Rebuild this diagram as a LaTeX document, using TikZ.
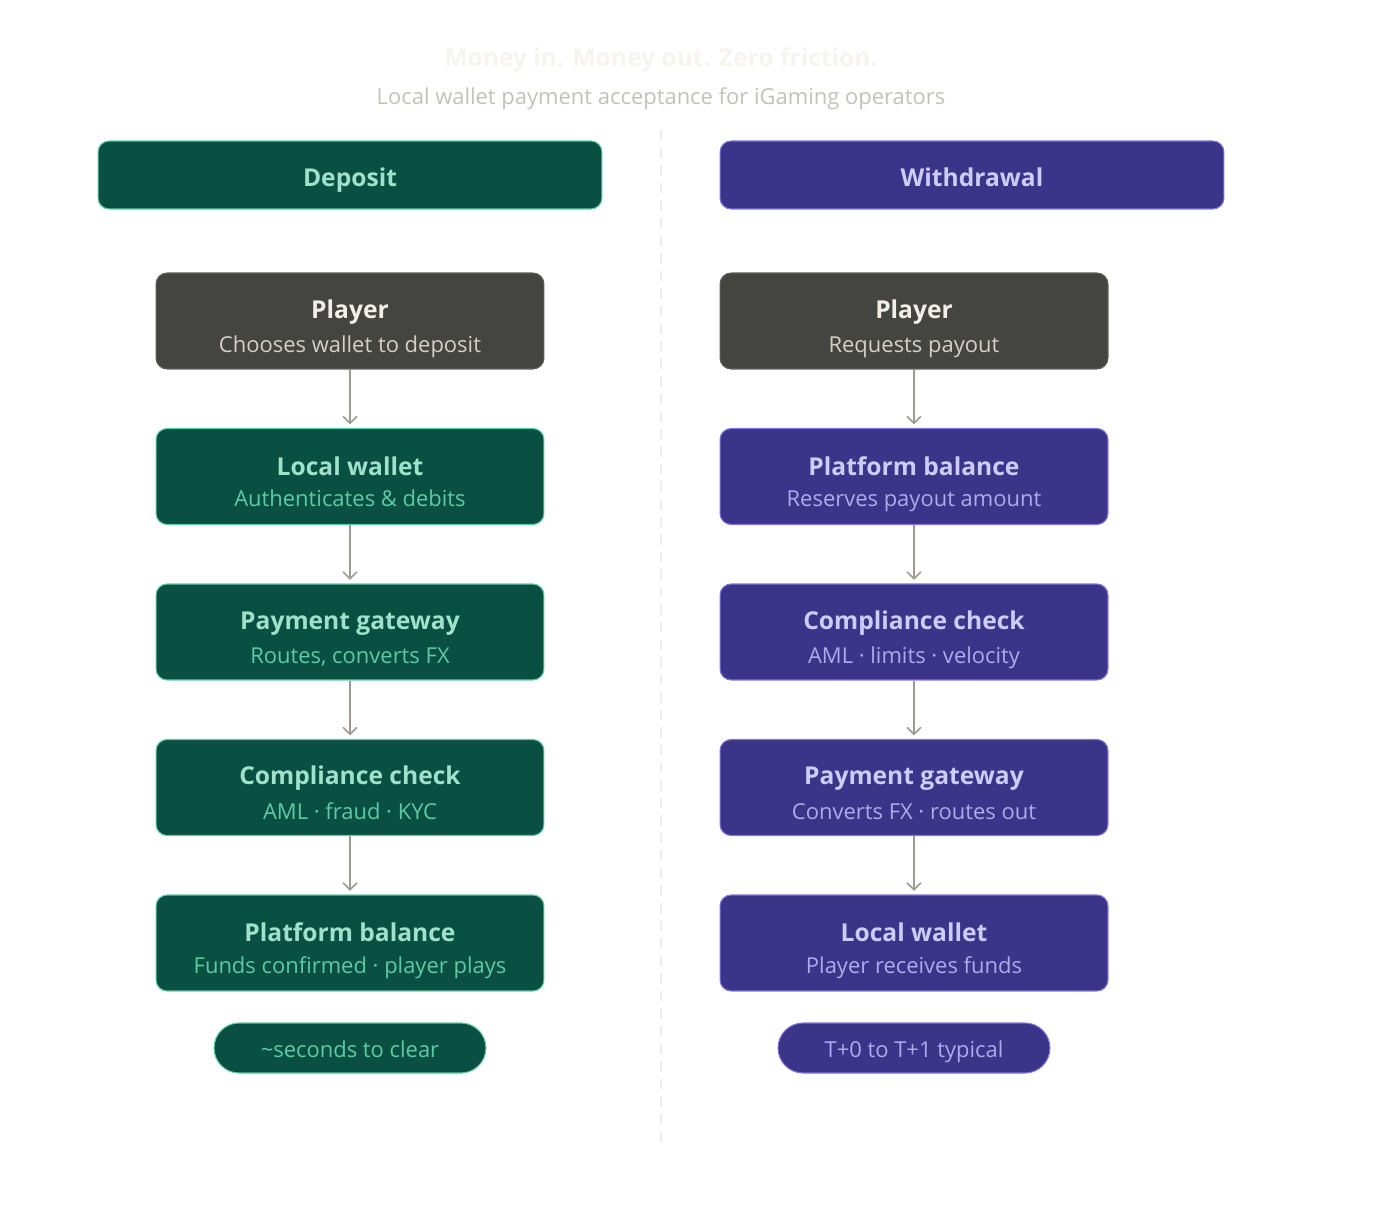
\documentclass[tikz,border=0pt]{standalone}
\usepackage{fontspec}
\setmainfont{Open Sans}
\usetikzlibrary{arrows.meta,positioning}

\definecolor{depfill}{HTML}{0A5042}
\definecolor{depline}{HTML}{5DCAA5}
\definecolor{deptext}{HTML}{9FE1CB}
\definecolor{wdfill}{HTML}{3C3489}
\definecolor{wdline}{HTML}{7F77DD}
\definecolor{wdtext}{HTML}{CECBF6}
\definecolor{wdsub}{HTML}{AFA9EC}
\definecolor{plfill}{HTML}{444441}
\definecolor{plline}{HTML}{5F5E5A}
\definecolor{pltext}{HTML}{F1EFE8}
\definecolor{plsub}{HTML}{D3D1C7}
\definecolor{arrowgray}{HTML}{9C9A92}

\newcommand{\hd}[1]{{\bfseries\fontsize{14}{16}\selectfont\rule{0pt}{20pt}#1}}
\newcommand{\sub}[2]{{\fontsize{12.5}{15}\selectfont\color{#1}\rule[-3.5pt]{0pt}{3.5pt}#2}}

\begin{document}
\begin{tikzpicture}[x=0.02cm,y=-0.02cm,
    card/.style={rounded corners=0.22cm, line width=0.6pt, minimum width=7.76cm,
        minimum height=1.92cm, align=center, inner sep=0pt},
    plcard/.style={card, fill=plfill, draw=plline, text=pltext},
    depcard/.style={card, fill=depfill, draw=depline, text=deptext},
    wdcard/.style={card, fill=wdfill, draw=wdline, text=wdtext},
    header/.style={rounded corners=0.22cm, line width=0.6pt, minimum width=10.08cm,
        minimum height=1.36cm, text height=16pt, text depth=3pt,
        font=\bfseries\fontsize{14}{16}\selectfont},
    pill/.style={rounded corners=0.5cm, line width=0.6pt, minimum width=5.44cm,
        minimum height=1cm, text height=14pt, text depth=3pt,
        font=\fontsize{12.5}{15}\selectfont},
    flow/.style={draw=arrowgray, line width=0.9pt, -{Straight Barb[length=4pt,width=8pt]}}]
\useasboundingbox (0,0) rectangle (1400,1206);

% title
\node (title) at (661,60) {\bfseries\fontsize{14}{16}\selectfont\color{pltext!70!white}Money in. Money out. Zero friction.};
\node (subtitle) at (661,99) {\fontsize{12.5}{15}\selectfont\color{plsub!80!gray}Local wallet payment acceptance for iGaming operators};
\draw[plsub!40!white, line width=0.8pt, dash pattern=on 6pt off 4pt] (661,130) -- (661,1145);

% deposit
\node[header, fill=depfill, draw=depline, text=deptext] (dep) at (350,175) {Deposit};
\node[plcard] (d1) at (350,321) {\hd{Player}\\[6pt]\sub{plsub}{Chooses wallet to deposit}};
\node[depcard] (d2) at (350,476.5) {\hd{Local wallet}\\[6pt]\sub{depline}{Authenticates \& debits}};
\node[depcard] (d3) at (350,632) {\hd{Payment gateway}\\[6pt]\sub{depline}{Routes, converts FX}};
\node[depcard] (d4) at (350,787.5) {\hd{Compliance check}\\[6pt]\sub{depline}{AML · fraud · KYC}};
\node[depcard] (d5) at (350,943) {\hd{Platform balance}\\[6pt]\sub{depline}{Funds confirmed · player plays}};
\node[pill, fill=depfill, draw=depline, text=depline] (dtime) at (350,1048) {\textasciitilde seconds to clear};

% withdrawal
\node[header, fill=wdfill, draw=wdline, text=wdtext] (wd) at (972,175) {Withdrawal};
\node[plcard] (w1) at (914,321) {\hd{Player}\\[6pt]\sub{plsub}{Requests payout}};
\node[wdcard] (w2) at (914,476.5) {\hd{Platform balance}\\[6pt]\sub{wdsub}{Reserves payout amount}};
\node[wdcard] (w3) at (914,632) {\hd{Compliance check}\\[6pt]\sub{wdsub}{AML · limits · velocity}};
\node[wdcard] (w4) at (914,787.5) {\hd{Payment gateway}\\[6pt]\sub{wdsub}{Converts FX · routes out}};
\node[wdcard] (w5) at (914,943) {\hd{Local wallet}\\[6pt]\sub{wdsub}{Player receives funds}};
\node[pill, fill=wdfill, draw=wdline, text=wdsub] (wtime) at (914,1048) {T+0 to T+1 typical};

\foreach \a/\b in {1/2,2/3,3/4,4/5} {
    \draw[flow] (d\a.south) -- ([yshift=2pt]d\b.north);
    \draw[flow] (w\a.south) -- ([yshift=2pt]w\b.north);
}
\end{tikzpicture}
\end{document}
